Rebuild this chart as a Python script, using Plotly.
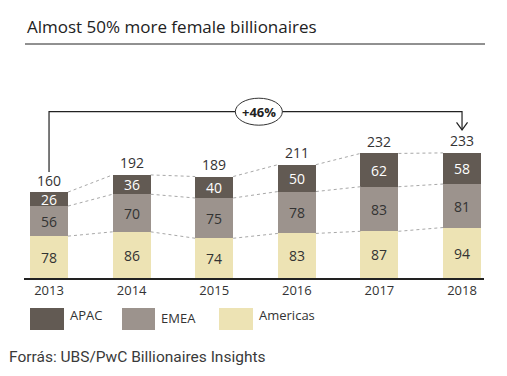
import plotly.graph_objects as go

years = [2013, 2014, 2015, 2016, 2017, 2018]
year_labels = ["2013", "2014", "2015", "2016", "2017", "2018"]
americas = [78, 86, 74, 83, 87, 94]
emea = [56, 70, 75, 78, 83, 81]
apac = [26, 36, 40, 50, 62, 58]
totals = [160, 192, 189, 211, 232, 233]

C_APAC = "#625a53"
C_EMEA = "#9c938d"
C_AM = "#ede3b4"
TXT = "#333333"
FONT = "Open Sans"

W, H = 507, 376
L, R, T, B = 24, 23, 60, 98
plot_w = W - L - R
plot_h = H - T - B
YMAX = 406
px_per_unit = plot_h / YMAX
bar_w = 0.46


def px2py(py):
    return (H - B - py) / plot_h


def px2px(px):
    return (px - L) / plot_w


fig = go.Figure()
for name, vals, col, tcol in [("Americas", americas, C_AM, TXT),
                              ("EMEA", emea, C_EMEA, TXT),
                              ("APAC", apac, C_APAC, "white")]:
    fig.add_trace(go.Bar(
        x=years, y=vals, name=name, width=bar_w,
        marker=dict(color=col, line=dict(width=0)),
        text=[str(v) for v in vals], textposition="inside",
        insidetextanchor="middle", constraintext="none", textangle=0,
        textfont=dict(family=FONT, size=14, color=tcol),
        showlegend=False, hoverinfo="skip"))

# dotted connectors between segment tops
levels = [
    americas,
    [a + e for a, e in zip(americas, emea)],
    totals,
]
for lev in levels:
    xs, ys = [], []
    for i in range(len(years) - 1):
        xs += [years[i] + bar_w / 2, years[i + 1] - bar_w / 2, None]
        ys += [lev[i], lev[i + 1], None]
    fig.add_trace(go.Scatter(x=xs, y=ys, mode="lines",
                             line=dict(color="#a8a8a8", width=1, dash="dot"),
                             showlegend=False, hoverinfo="skip"))

annotations = []
for x, t in zip(years, totals):
    annotations.append(dict(x=x, y=t, text=str(t), showarrow=False,
                            yanchor="middle", yshift=12,
                            font=dict(family=FONT, size=14, color=TXT)))

# bracket
bracket_y = (H - B - 111.7) / px_per_unit
left_bottom = totals[0] + 20 / px_per_unit
tip = totals[-1] + 23 / px_per_unit
shapes = [
    dict(type="path", xref="x", yref="y",
         path=f"M {years[0]},{left_bottom} L {years[0]},{bracket_y} L {years[-1]},{bracket_y} L {years[-1]},{tip}",
         line=dict(color="#222222", width=1.2)),
    dict(type="path", xref="x", yref="y", xsizemode="pixel", ysizemode="pixel",
         xanchor=years[-1], yanchor=tip, path="M -5.5,7.5 L 0,0 L 5.5,7.5",
         line=dict(color="#222222", width=1.2)),
    dict(type="circle", xref="x", yref="y", xsizemode="pixel", ysizemode="pixel",
         xanchor=2015.54, yanchor=bracket_y, x0=-23.5, x1=23.5, y0=-13.5, y1=13.5,
         fillcolor="white", line=dict(color="#333333", width=1)),
    # title underline
    dict(type="line", xref="paper", yref="paper", x0=px2px(25), x1=px2px(485),
         y0=px2py(44), y1=px2py(44), line=dict(color="#222222", width=1)),
]
pct = round((totals[-1] / totals[0] - 1) * 100)
annotations.append(dict(x=2015.54, y=bracket_y, text=f"<b>+{pct}%</b>", showarrow=False,
                        font=dict(family=FONT, size=13, color="#222222")))

# title
annotations.append(dict(xref="paper", yref="paper", x=px2px(25), y=px2py(27),
                        xanchor="left", yanchor="middle", showarrow=False,
                        text="Almost 50% more female billionaires",
                        font=dict(family=FONT, size=17, color="#222222")))

# legend (custom)
legend_items = [("APAC", C_APAC, 30, 64, 315), ("EMEA", C_EMEA, 122, 155, 318),
                ("Americas", C_AM, 219, 253, 315)]
for name, col, x0, x1, ty in legend_items:
    shapes.append(dict(type="rect", xref="paper", yref="paper",
                       x0=px2px(x0), x1=px2px(x1), y0=px2py(330), y1=px2py(308),
                       fillcolor=col, line=dict(width=0)))
    annotations.append(dict(xref="paper", yref="paper", x=px2px(x1 + 4), y=px2py(ty),
                            xanchor="left", yanchor="middle", showarrow=False, text=name,
                            font=dict(family=FONT, size=13, color=TXT)))

# source
annotations.append(dict(xref="paper", yref="paper", x=px2px(7), y=px2py(357),
                        xanchor="left", yanchor="middle", showarrow=False,
                        text="Forrás: UBS/PwC Billionaires Insights",
                        font=dict(family="Roboto", size=15.5, color="#3a3a3a")))

fig.update_layout(
    width=W, height=H, margin=dict(l=L, r=R, t=T, b=B),
    paper_bgcolor="white", plot_bgcolor="white",
    barmode="stack", bargap=0,
    shapes=shapes, annotations=annotations,
    xaxis=dict(range=[2012.697, 2018.266], tickvals=years, ticktext=year_labels,
               showgrid=False, zeroline=False, showline=True, linecolor="#222222",
               linewidth=1.5, ticks="", tickfont=dict(family=FONT, size=13, color=TXT)),
    yaxis=dict(range=[0, YMAX], visible=False, showgrid=False, zeroline=False),
)

fig.write_html("out.html", config={"displayModeBar": False},
               post_script="document.body.style.margin='0px';")
